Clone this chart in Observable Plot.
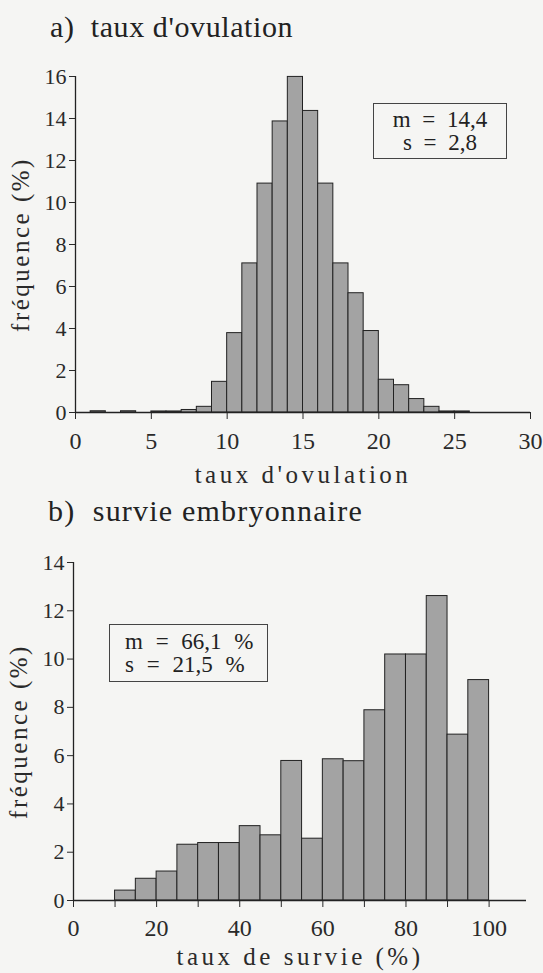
<!DOCTYPE html>
<html>
<head>
<meta charset="utf-8">
<script src="https://cdn.jsdelivr.net/npm/d3@7"></script>
<script src="https://cdn.jsdelivr.net/npm/@observablehq/plot@0.6"></script>
<style>
  body { margin: 0; background: #f5f5f3; }
</style>
</head>
<body>
<div id="page" style="position:relative; width:543px; height:973px; overflow:hidden; background:#f5f5f3; color:#222; font-family:'Liberation Serif';">
  <div id="titleA" style="position:absolute; left:50px; top:11px; font-family:'Liberation Serif'; font-size:30px; letter-spacing:0.6px; line-height:32px; white-space:pre;"></div>
  <div id="chartA" style="position:absolute; left:0; top:40px;"></div>
  <div id="statA" style="position:absolute; left:373px; top:103px; width:134px; height:56px; box-sizing:border-box; border:1.3px solid #444; text-align:center; padding-top:4px; font-family:'Liberation Serif'; font-size:23px; line-height:23px; word-spacing:6px; white-space:pre;"></div>
  <div id="titleB" style="position:absolute; left:48px; top:495px; font-family:'Liberation Serif'; font-size:30px; letter-spacing:1.2px; line-height:32px; white-space:pre;"></div>
  <div id="chartB" style="position:absolute; left:0; top:530px;"></div>
  <div id="statB" style="position:absolute; left:109px; top:624px; width:159px; height:58px; box-sizing:border-box; border:1.3px solid #444; text-align:left; padding-left:15px; padding-top:5px; font-family:'Liberation Serif'; font-size:23px; line-height:23px; word-spacing:7px; white-space:pre;"></div>
</div>
<script>
// ---- data: a) taux d'ovulation (bins of width 1) ----
const ovulationBinStart = [1, 3, 5, 6, 7, 8, 9, 10, 11, 12, 13, 14, 15, 16, 17, 18, 19, 20, 21, 22, 23, 24, 25];
const ovulationFreq = [0.06, 0.06, 0.05, 0.05, 0.12, 0.27, 1.46, 3.78, 7.1, 10.9, 13.86, 15.98, 14.36, 10.9, 7.1, 5.68, 3.88, 1.56, 1.30, 0.64, 0.27, 0.05, 0.05];
const ovulationBinWidth = 1;
const ovulationXTicks = [0, 5, 10, 15, 20, 25, 30];
const ovulationYTicks = [0, 2, 4, 6, 8, 10, 12, 14, 16];
const ovulationStats = ["m = 14,4", "s = 2,8"];

// ---- data: b) survie embryonnaire (bins of width 5) ----
const survieBinStart = [10, 15, 20, 25, 30, 35, 40, 45, 50, 55, 60, 65, 70, 75, 80, 85, 90, 95];
const survieFreq = [0.41, 0.90, 1.20, 2.31, 2.38, 2.38, 3.08, 2.70, 5.78, 2.56, 5.85, 5.77, 7.88, 10.19, 10.19, 12.61, 6.87, 9.13];
const survieBinWidth = 5;
const survieXTicks = [0, 10, 20, 30, 40, 50, 60, 70, 80, 90, 100];
const survieXLabelled = [0, 20, 40, 60, 80, 100];
const survieYTicks = [0, 2, 4, 6, 8, 10, 12, 14];
const survieStats = ["m = 66,1 %", "s = 21,5 %"];

const titles = ["a)  taux d'ovulation", "b)  survie embryonnaire"];

document.getElementById("titleA").textContent = titles[0];
document.getElementById("titleB").textContent = titles[1];
document.getElementById("statA").textContent = ovulationStats.join("\n");
document.getElementById("statB").textContent = survieStats.join("\n");

const dataA = ovulationBinStart.map((b, i) => ({x1: b, x2: b + ovulationBinWidth, f: ovulationFreq[i]}));
const dataB = survieBinStart.map((b, i) => ({x1: b, x2: b + survieBinWidth, f: survieFreq[i]}));

const FONT = "Liberation Serif";
const common = {
  style: {background: "transparent", fontFamily: FONT, fontSize: "23px", color: "#2a2a2a", overflow: "visible"}
};
const barStyle = {fill: "#a3a3a3", stroke: "#222", strokeWidth: 1};

function finish(svg) {
  svg.setAttribute("font-family", FONT);
  svg.style.overflow = "visible";
  const set = (sel, size, spacing) => svg.querySelectorAll(`g[aria-label="${sel}"] text`).forEach(t => {
    t.style.fontFamily = FONT;
    t.style.fontSize = size + "px";
    if (spacing) t.style.letterSpacing = spacing + "px";
    t.style.fill = "#2a2a2a";
  });
  set("x-axis tick label", 24);
  set("y-axis tick label", 22);
  set("x-axis label", 25, 3.5);
  set("y-axis label", 25, 2.5);
  return svg;
}

const plotA = Plot.plot({
  ...common,
  width: 543, height: 460,
  marginTop: 36, marginBottom: 88, marginLeft: 75, marginRight: 13,
  x: {domain: [0, 30], ticks: ovulationXTicks, tickSize: 7, tickPadding: 12, label: "taux d'ovulation", labelAnchor: "center", labelOffset: 70, labelArrow: "none"},
  y: {domain: [0, 16], ticks: ovulationYTicks, tickSize: 6, tickPadding: 3, label: "fréquence (%)", labelAnchor: "center", labelOffset: 64, labelArrow: "none"},
  marks: [
    Plot.rectY(dataA, {x1: "x1", x2: "x2", y: "f", ...barStyle}),
    Plot.ruleY([0], {stroke: "#222", strokeWidth: 1.3}),
    Plot.ruleX([0], {stroke: "#222", strokeWidth: 1.3})
  ]
});
document.getElementById("chartA").append(finish(plotA));

const plotB = Plot.plot({
  ...common,
  width: 543, height: 443,
  marginTop: 32, marginBottom: 73, marginLeft: 73, marginRight: 17,
  x: {domain: [0, 109], ticks: survieXTicks, tickFormat: d => survieXLabelled.includes(d) ? d : "", tickSize: 7, tickPadding: 11, label: "taux de survie (%)", labelAnchor: "center", labelOffset: 64, labelArrow: "none"},
  y: {domain: [0, 14], ticks: survieYTicks, tickSize: 6, tickPadding: 3, label: "fréquence (%)", labelAnchor: "center", labelOffset: 64, labelArrow: "none"},
  marks: [
    Plot.rectY(dataB, {x1: "x1", x2: "x2", y: "f", ...barStyle}),
    Plot.ruleY([0], {stroke: "#222", strokeWidth: 1.3}),
    Plot.ruleX([0], {stroke: "#222", strokeWidth: 1.3})
  ]
});
document.getElementById("chartB").append(finish(plotB));
</script>
</body>
</html>
